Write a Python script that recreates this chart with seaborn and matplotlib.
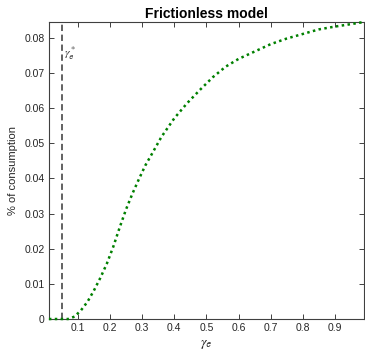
import matplotlib
matplotlib.use("Agg")
import matplotlib.pyplot as plt
import seaborn as sns
import pandas as pd

gamma_e = [0.01, 0.03, 0.05, 0.07, 0.09, 0.11, 0.13, 0.15, 0.17, 0.19, 0.21,
           0.23, 0.25, 0.27, 0.29, 0.31, 0.33, 0.36, 0.40, 0.44, 0.48, 0.52,
           0.56, 0.60, 0.65, 0.70, 0.75, 0.80, 0.85, 0.90, 0.95, 0.99]
consumption = [0.0, 0.0, 0.0, 0.0, 0.0007, 0.0025, 0.0049, 0.0081, 0.0117,
               0.0157, 0.0205, 0.0260, 0.0312, 0.0357, 0.0398, 0.0437, 0.0469,
               0.0518, 0.0571, 0.0614, 0.0652, 0.0688, 0.0718, 0.0740, 0.0761,
               0.0782, 0.0798, 0.0811, 0.0824, 0.0832, 0.0839, 0.0845]
gamma_star = 0.05
x_ticks = [0.1, 0.2, 0.3, 0.4, 0.5, 0.6, 0.7, 0.8, 0.9]
y_ticks = [0, 0.01, 0.02, 0.03, 0.04, 0.05, 0.06, 0.07, 0.08]

sns.set_style("white")
plt.rcParams['font.family'] = ['Liberation Sans', 'DejaVu Sans']
plt.rcParams['mathtext.fontset'] = 'stix'

df = pd.DataFrame({"gamma_e": gamma_e, "consumption": consumption})

fig = plt.figure(figsize=(3.65, 3.59), dpi=100)
ax = fig.add_axes([0.134, 0.1114, 0.863, 0.8273])

sns.lineplot(data=df, x="gamma_e", y="consumption", ax=ax, color=(0, 0.5, 0),
             linestyle=(0, (1, 1.35)), linewidth=1.8, zorder=3, clip_on=False)
ax.axvline(gamma_star, color="#555555", linestyle=(0, (3.5, 2)), linewidth=1.3)
ax.text(gamma_star + 0.006, 0.0755, r"$\gamma_{\mathsf{e}}^*$", fontsize=8.5,
        color="#333333", ha="left", va="center")

ax.set_xlim(0.01, 0.99)
ax.set_ylim(0, 0.0845)
ax.set_xticks(x_ticks)
ax.set_xticklabels([f"{t:g}" for t in x_ticks])
ax.set_yticks(y_ticks)
ax.set_yticklabels([f"{t:g}" for t in y_ticks])
ax.tick_params(direction="in", length=3.5, width=0.7, colors="#404040",
               labelsize=7.5, bottom=True, left=True, top=True, right=True,
               labelcolor="#262626", pad=3)
for s in ax.spines.values():
    s.set_color("#404040")
    s.set_linewidth(0.8)
ax.set_xlabel(r"$\gamma_{\mathsf{e}}$", fontsize=10, color="#262626", labelpad=3)
ax.set_ylabel("% of consumption", fontsize=8, color="#262626", labelpad=5)
ax.set_title("Frictionless model", fontsize=10, fontweight="bold", pad=3,
             color="black")

fig.savefig("out.png", dpi=100)
